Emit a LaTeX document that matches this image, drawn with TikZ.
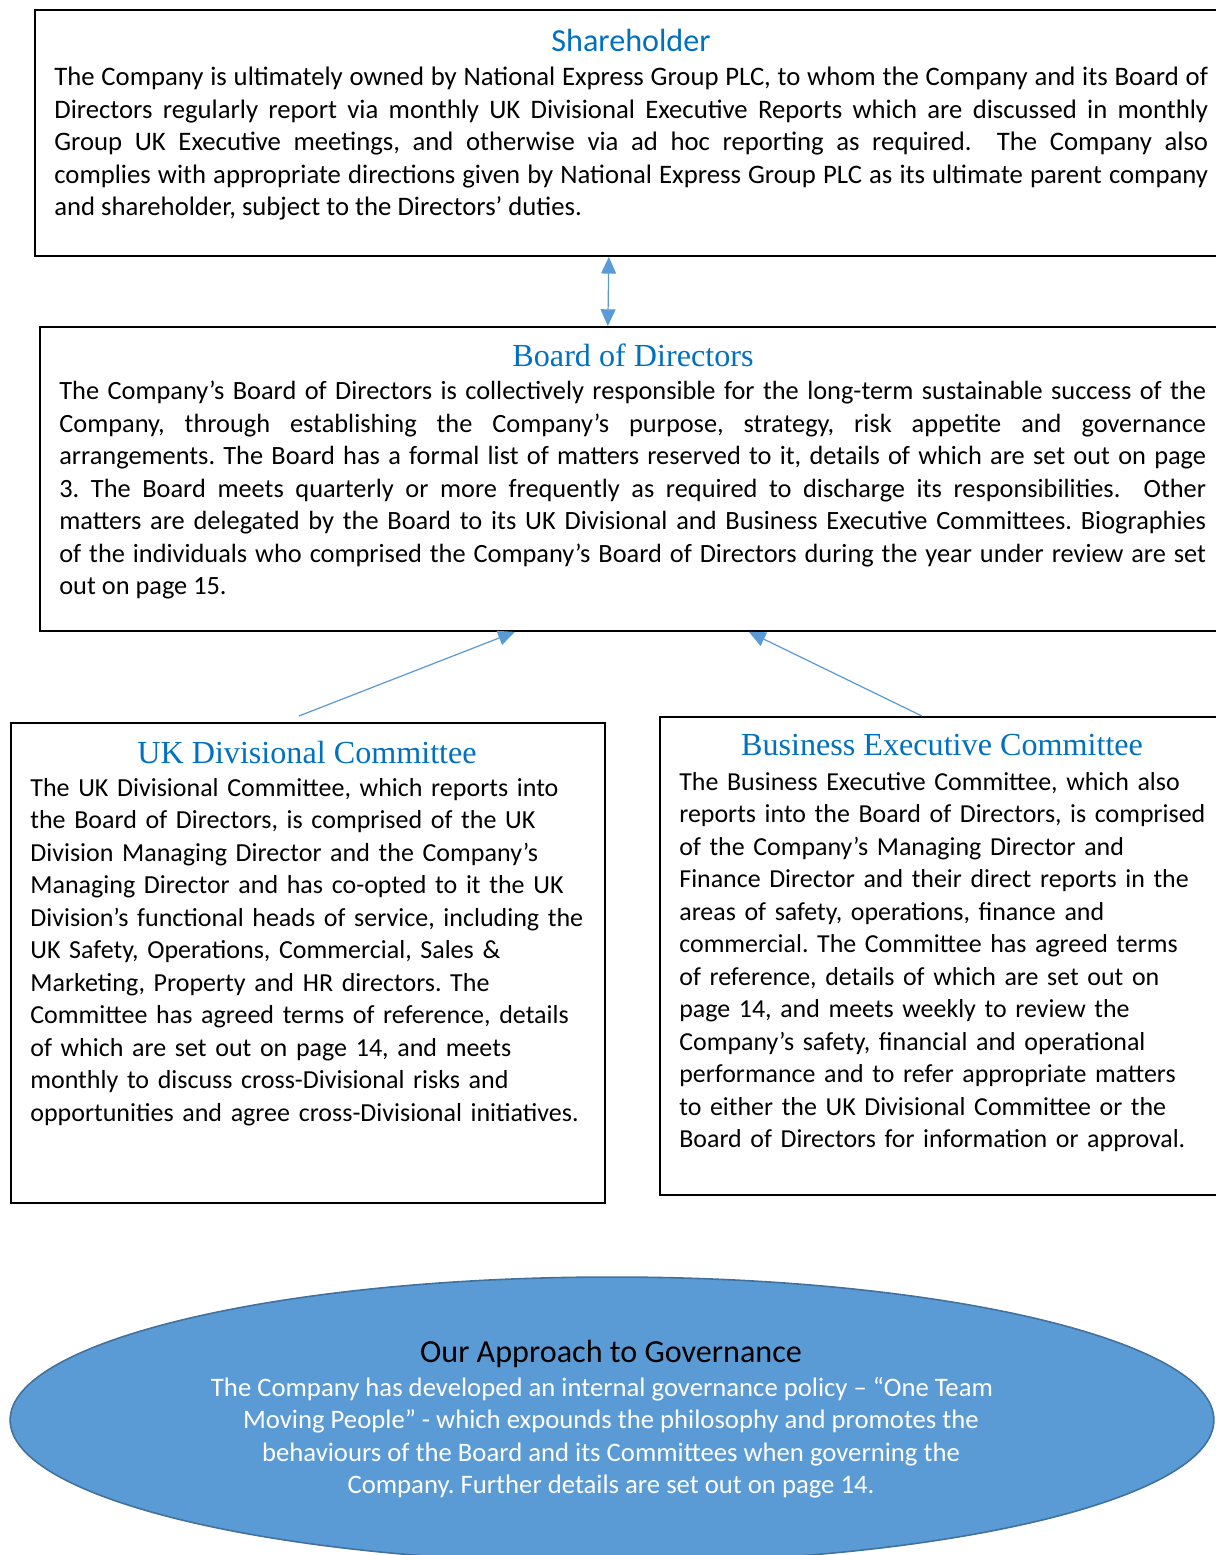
\documentclass[tikz,border=0pt]{standalone}
\usepackage{fontspec}
\setmainfont{Carlito}
\newfontfamily\headfont{Liberation Serif}
\usetikzlibrary{arrows.meta,calc,shapes.geometric}
\definecolor{head}{HTML}{0070C0}
\definecolor{link}{HTML}{5B9BD5}
\definecolor{rim}{HTML}{41719C}
\newcommand{\bodysize}[1]{\fontsize{#1}{18.5}\selectfont}
\tikzset{frame/.style={draw=black,line width=1.1pt,anchor=north west,inner sep=0pt},
  title/.style={text=head,inner sep=0pt,font=\fontsize{18.3}{22}\selectfont},
  serif title/.style={title,font=\headfont\fontsize{18.3}{22}\selectfont},
  body/.style={anchor=north west,inner sep=0pt,font=\bodysize{15}},
  wire/.style={draw=link,line width=.7pt,-{Triangle[length=9.5pt,width=8.5pt]}},
  govern/.style={ellipse,draw=rim,line width=.9pt,fill=link,inner sep=0pt,
    minimum width=24.08cm,minimum height=5.72cm}}

\begin{document}
\frenchspacing
\begin{tikzpicture}[x=.02cm,y=-.02cm]
\useasboundingbox (0,0) rectangle (1216,1555);
% boxes
\node[frame,minimum width=23.92cm,minimum height=4.92cm] (share) at (34,9) {};
\node[frame,minimum width=23.82cm,minimum height=6.08cm] (board) at (39,326) {};
\node[frame,minimum width=11.88cm,minimum height=9.6cm] (ukdiv) at (10,722) {};
\node[frame,minimum width=11.42cm,minimum height=9.56cm] (busex) at (659,716) {};
% titles
\node[title] (shareT) at (631,40) {Shareholder};
\node[serif title] (boardT) at (633,355) {Board of Directors};
\node[serif title] (ukdivT) at (307,752) {UK Divisional Committee};
\node[serif title] (busexT) at (942,745) {Business Executive Committee};
% texts
\node[body,font=\bodysize{15.2},text width=23.08cm,align=justify] (shareB) at (54,67) {The Company is ultimately owned by National Express Group PLC, to whom the Company and its Board of\linebreak
Directors regularly report via monthly UK Divisional Executive Reports which are discussed in monthly\linebreak
Group UK Executive meetings, and otherwise via ad hoc reporting as required.~ The Company also\linebreak
complies with appropriate directions given by National Express Group PLC as its ultimate parent company\linebreak
and shareholder, subject to the Directors’ duties.};
\node[body,text width=22.94cm,align=justify] (boardB) at (59,381) {The Company’s Board of Directors is collectively responsible for the long-term sustainable success of the\linebreak
Company, through establishing the Company’s purpose, strategy, risk appetite and governance\linebreak
arrangements. The Board has a formal list of matters reserved to it, details of which are set out on page\linebreak
3. The Board meets quarterly or more frequently as required to discharge its responsibilities.~ Other\linebreak
matters are delegated by the Board to its UK Divisional and Business Executive Committees. Biographies\linebreak
of the individuals who comprised the Company’s Board of Directors during the year under review are set\linebreak
out on page 15.};
\node[body,font=\bodysize{14.8},text width=11.6cm,align=left] (ukdivB) at (30,778) {The UK Divisional Committee, which reports into\\
the Board of Directors, is comprised of the UK\\
Division Managing Director and the Company’s\\
Managing Director and has co-opted to it the UK\\
Division’s functional heads of service, including the\\
UK Safety, Operations, Commercial, Sales \&\\
Marketing, Property and HR directors. The\\
Committee has agreed terms of reference, details\\
of which are set out on page 14, and meets\\
monthly to discuss cross-Divisional risks and\\
opportunities and agree cross-Divisional initiatives.};
\node[body,font=\bodysize{14.75},text width=11.0cm,align=left] (busexB) at (679,772) {The Business Executive Committee, which also\\
reports into the Board of Directors, is comprised\\
of the Company’s Managing Director and\\
Finance Director and their direct reports in the\\
areas of safety, operations, finance and\\
commercial. The Committee has agreed terms\\
of reference, details of which are set out on\\
page 14, and meets weekly to review the\\
Company’s safety, financial and operational\\
performance and to refer appropriate matters\\
to either the UK Divisional Committee or the\\
Board of Directors for information or approval.};
% approach
\node[govern] (gov) at (612,1420) {};
\node[inner sep=0pt,align=center,font=\bodysize{15.2}] (govT) at (611,1419) {{\fontsize{18.3}{22}\selectfont Our Approach to Governance}\\[1pt]
\color{white}The Company has developed an internal governance policy – “One Team\hspace*{.36cm}\\
\color{white}Moving People” - which expounds the philosophy and promotes the\\
\color{white}behaviours of the Board and its Committees when governing the\\
\color{white}Company. Further details are set out on page 14.};
% links
\draw[wire,{Triangle[length=9.5pt,width=8.5pt]}-{Triangle[length=9.5pt,width=8.5pt]}] ($(share.south)+(-24,0)$) -- ($(board.north)+(-27.5,0)$);
\draw[wire] ($(ukdiv.north)+(-9,-6)$) -- ($(board.south)+(-120.5,0)$);
\draw[wire] ($(busex.north)+(-23.5,0)$) -- ($(board.south)+(113.5,0)$);
\end{tikzpicture}
\end{document}
